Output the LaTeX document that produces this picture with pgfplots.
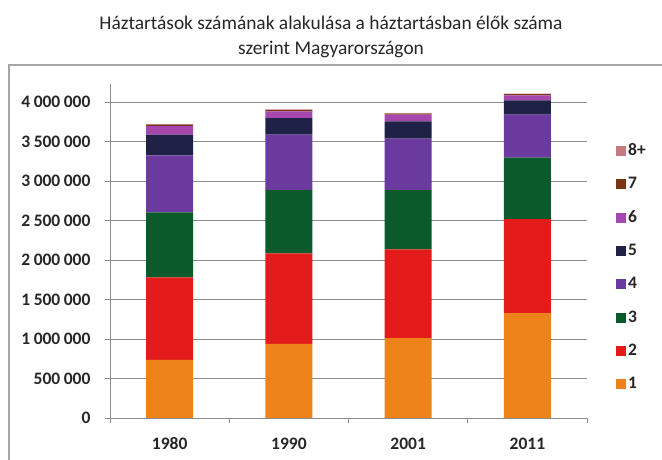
\documentclass[border=0pt]{standalone}
\usepackage{pgfplots}
\pgfplotsset{compat=1.18}
\usepackage{pgfplotstable}
\usepackage{fontspec}
\setmainfont{Carlito}
\definecolor{c1}{HTML}{EE8419}
\definecolor{c2}{HTML}{E31B1B}
\definecolor{c3}{HTML}{0B5A2C}
\definecolor{c4}{HTML}{6A3A9E}
\definecolor{c5}{HTML}{1F2147}
\definecolor{c6}{HTML}{A647B0}
\definecolor{c7}{HTML}{7B3519}
\definecolor{c8}{HTML}{C47A7E}
\definecolor{frame}{HTML}{A6A6A6}
\definecolor{gridc}{HTML}{8C8C8C}
\definecolor{txt}{HTML}{262626}
\pgfplotstableread{
x s1 s2 s3 s4 s5 s6 s7 s8
0 736000 1044000 821000 723000 262000 108000 18000 6000
1 938000 1145000 800000 703000 210000 84000 16000 9000
2 1010000 1124000 749000 652000 219000 84000 15000 6000
3 1326000 1190000 779000 543000 181000 63000 16000 6000
}\data
\begin{document}
\begin{tikzpicture}[x=1pt,y=1pt]
\useasboundingbox (0,0) rectangle (662,460);
\fill[white] (0,0) rectangle (662,460);
\draw[color=frame, line width=1.5pt] (680,395) -- (9,395) -- (9,-20);
\node[align=center, font=\fontsize{19.4}{24.5}\selectfont, text=txt] at (331,423) {Háztartások számának alakulása a háztartásban élők száma\\szerint Magyarországon};
\begin{axis}[
  at={(110pt,42pt)}, anchor=south west,
  scale only axis, width=477pt, height=334pt,
  ybar stacked, bar width=0.394,
  xmin=-0.5, xmax=3.5, ymin=0, ymax=4227000,
  xtick={0,1,2,3}, xticklabels={1980,1990,2001,2011},
  major x tick style={draw=none},
  minor xtick={-0.5,0.5,1.5,2.5,3.5},
  ytick={0,500000,...,4000000},
  ymajorgrids, grid style={gridc, line width=0.8pt},
  axis x line*=bottom, axis y line*=left,
  axis line style={gridc, line width=0.8pt},
  tick style={gridc, line width=0.8pt},
  tick align=outside, major tick length=5pt, minor tick length=5pt,
  scaled y ticks=false,
  /pgf/number format/fixed, /pgf/number format/precision=0,
  /pgf/number format/1000 sep={\hspace{0.2em}}, /pgf/number format/assume math mode=true,
  ticklabel style={font=\fontsize{17.5}{17.5}\selectfont\bfseries, text=txt},
  xticklabel style={yshift=-11pt},
  yticklabel style={xshift=-11pt},
  legend image code/.code={\fill[#1] (0pt,-5pt) rectangle (10pt,5pt);},
  reverse legend,
  legend cell align=left,
  legend style={at={(1,0.45)}, anchor=west, xshift=26pt, draw=none, fill=none,
    font=\fontsize{17.5}{17.5}\selectfont\bfseries, text=txt,
    nodes={inner sep=2pt, text height=12pt, text depth=3pt},
    row sep=14.3pt},
]
\addplot[fill=c1, draw=none] table[x=x,y=s1]{\data};
\addplot[fill=c2, draw=none] table[x=x,y=s2]{\data};
\addplot[fill=c3, draw=none] table[x=x,y=s3]{\data};
\addplot[fill=c4, draw=none] table[x=x,y=s4]{\data};
\addplot[fill=c5, draw=none] table[x=x,y=s5]{\data};
\addplot[fill=c6, draw=none] table[x=x,y=s6]{\data};
\addplot[fill=c7, draw=none] table[x=x,y=s7]{\data};
\addplot[fill=c8, draw=none] table[x=x,y=s8]{\data};
\legend{1,2,3,4,5,6,7,8+}
\end{axis}
\end{tikzpicture}
\end{document}
